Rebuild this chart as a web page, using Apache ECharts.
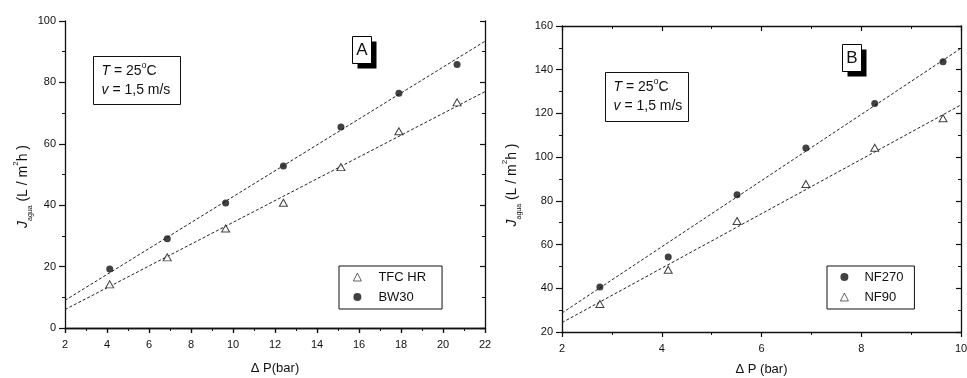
<!DOCTYPE html>
<html><head><meta charset="utf-8">
<script src="https://cdn.jsdelivr.net/npm/echarts@6/dist/echarts.min.js"></script>
<style>html,body{margin:0;padding:0;background:#fff}#c{width:967px;height:378px}</style>
</head><body><div id="c"></div>
<script>
// Panel A: reverse-osmosis membranes
const pressureA = [4.13, 6.87, 9.65, 12.40, 15.14, 17.90, 20.67];
const fluxTFCHR = [14.2, 23.0, 32.4, 40.8, 52.4, 64.1, 73.5];
const fluxBW30 = [19.2, 29.1, 40.7, 52.8, 65.5, 76.5, 85.8];
// linear fits, end points
const fitTFCHR = [[2, 6.0], [22, 77.0]];
const fitBW30 = [[2, 9.0], [22, 93.4]];

// Panel B: nanofiltration membranes
const pressureB = [2.76, 4.13, 5.51, 6.89, 8.27, 9.64];
const fluxNF270 = [40.6, 54.3, 82.8, 104.2, 124.5, 143.7];
const fluxNF90 = [32.8, 48.5, 70.8, 87.7, 104.3, 117.8];
const fitNF270 = [[2, 28.7], [10, 149.8]];
const fitNF90 = [[2, 24.3], [10, 123.9]];

const FONT = '"Liberation Sans", Arial, sans-serif';
const INK = '#111';

const pair = (xs, ys) => xs.map((x, i) => [x, ys[i]]);

function mainX(grid, min, max, name, gap) {
  return {
    type: 'value', gridIndex: grid, position: 'bottom', min, max, interval: 2,
    name, nameLocation: 'middle', nameGap: gap,
    nameTextStyle: { fontFamily: FONT, fontSize: 13, color: INK },
    axisLine: { lineStyle: { color: INK, width: 1.3 } },
    axisTick: { inside: false, length: 5, lineStyle: { color: INK, width: 1.2 } },
    minorTick: { show: true, splitNumber: 2, length: 3, lineStyle: { color: INK, width: 1 } },
    axisLabel: { fontFamily: FONT, fontSize: 11, color: INK, margin: 11 },
    splitLine: { show: false }
  };
}
function mirrorX(grid, min, max) {
  return {
    type: 'value', gridIndex: grid, position: 'top', min, max, interval: 2,
    axisLine: { lineStyle: { color: INK, width: 1.3 } },
    axisTick: { inside: true, length: 5, lineStyle: { color: INK, width: 1.2 } },
    minorTick: { show: true, splitNumber: 2, length: 3, lineStyle: { color: INK, width: 1 } },
    axisLabel: { show: false }, splitLine: { show: false }
  };
}
function mainY(grid, min, max, gap, pad) {
  return {
    type: 'value', gridIndex: grid, position: 'left', min, max, interval: 20,
    name: '{j|J}{sub|agua}{n| (L / m}{sup|2}{n|h )}',
    nameLocation: 'middle', nameRotate: 90, nameGap: gap,
    nameTextStyle: {
      fontFamily: FONT, color: INK, padding: pad,
      rich: {
        j: { fontFamily: FONT, fontSize: 14, fontStyle: 'italic', color: INK, lineHeight: 22, verticalAlign: 'middle' },
        sub: { fontFamily: FONT, fontSize: 7, color: INK, lineHeight: 22, verticalAlign: 'bottom' },
        n: { fontFamily: FONT, fontSize: 14, color: INK, lineHeight: 22, verticalAlign: 'middle' },
        sup: { fontFamily: FONT, fontSize: 8, color: INK, lineHeight: 22, verticalAlign: 'top' }
      }
    },
    axisLine: { lineStyle: { color: INK, width: 1.3 } },
    axisTick: { inside: false, length: 6, lineStyle: { color: INK, width: 1.2 } },
    minorTick: { show: true, splitNumber: 2, length: 3, lineStyle: { color: INK, width: 1 } },
    axisLabel: { fontFamily: FONT, fontSize: 11, color: INK, margin: 9 },
    splitLine: { show: false }
  };
}
function mirrorY(grid, min, max) {
  return {
    type: 'value', gridIndex: grid, position: 'right', min, max, interval: 20,
    axisLine: { lineStyle: { color: INK, width: 1.3 } },
    axisTick: { inside: true, length: 5, lineStyle: { color: INK, width: 1.2 } },
    minorTick: { show: true, splitNumber: 2, length: 3, lineStyle: { color: INK, width: 1 } },
    axisLabel: { show: false }, splitLine: { show: false }
  };
}

const hollow = { color: '#fff', borderColor: INK, borderWidth: 1 };
const solid = { color: INK };
function pts(name, xAxisIndex, yAxisIndex, data, symbol) {
  return {
    name, type: 'scatter', xAxisIndex, yAxisIndex, data,
    symbol: symbol, symbolSize: symbol === 'triangle' ? [8, 7] : 7,
    itemStyle: symbol === 'triangle' ? hollow : solid, z: 5
  };
}
function fit(xAxisIndex, yAxisIndex, data) {
  return {
    type: 'line', xAxisIndex, yAxisIndex, data, showSymbol: false, symbol: 'none',
    silent: true, lineStyle: { color: '#222', width: 1, type: [3, 2] }, z: 3
  };
}

const rich = {
  i: { fontFamily: FONT, fontSize: 14, fontStyle: 'italic', color: INK, lineHeight: 19 },
  t: { fontFamily: FONT, fontSize: 14, color: INK, lineHeight: 19 },
  sup: { fontFamily: FONT, fontSize: 9, color: INK, lineHeight: 19, verticalAlign: 'top' }
};
function condBox(x, y, w, h) {
  return {
    type: 'group', left: x, top: y,
    children: [
      { type: 'rect', shape: { x: 0, y: 0, width: w, height: h }, style: { fill: '#fff', stroke: INK, lineWidth: 1 } },
      { type: 'text', x: 8, y: 5, style: {
        text: '{i|T}{t| = 25}{sup|o}{t|C}\n{i|v}{t| = 1,5 m/s}', rich, fill: INK } }
    ]
  };
}
function tag(x, y, letter) {
  return {
    type: 'group', left: x, top: y,
    children: [
      { type: 'rect', shape: { x: 5, y: 5, width: 19, height: 27 }, style: { fill: '#000' } },
      { type: 'rect', shape: { x: 0, y: 0, width: 19, height: 27 }, style: { fill: '#fff', stroke: '#000', lineWidth: 1 } },
      { type: 'text', x: 9.5, y: 14, style: { text: letter, fontFamily: FONT, fontSize: 17, fill: INK, align: 'center', verticalAlign: 'middle' } }
    ]
  };
}
function legendBox(left, top, names, padLeft, textPad, padRight) {
  return {
    data: names, orient: 'vertical', left, top,
    padding: [3, padRight, 4, padLeft], itemGap: 4, itemWidth: 8, itemHeight: 8,
    borderColor: INK, borderWidth: 1, backgroundColor: '#fff',
    itemStyle: { borderWidth: 0.8 },
    textStyle: { fontFamily: FONT, fontSize: 13, color: INK, lineHeight: 16, padding: [0, 0, 0, textPad] },
    selectedMode: false
  };
}

const chart = echarts.init(document.getElementById('c'), null, { renderer: 'canvas' });
chart.setOption({
  animation: false,
  backgroundColor: '#fff',
  grid: [
    { left: 65, top: 21, width: 420, height: 307, outerBoundsMode: 'none', containLabel: false },
    { left: 562, top: 26, width: 399, height: 306, outerBoundsMode: 'none', containLabel: false }
  ],
  xAxis: [
    mainX(0, 2, 22, '\u0394 P(bar)', 34), mirrorX(0, 2, 22),
    mainX(1, 2, 10, '\u0394 P (bar)', 31), mirrorX(1, 2, 10)
  ],
  yAxis: [
    mainY(0, 0, 100, 30, [0, 24, 0, 0]), mirrorY(0, 0, 100),
    mainY(1, 20, 160, 39, [0, 12, 0, 0]), mirrorY(1, 20, 160)
  ],
  legend: [
    legendBox(339, 266, ['TFC HR', 'BW30'], 14, 12, 16),
    legendBox(827, 266, ['NF270', 'NF90'], 13, 11, 11)
  ],
  series: [
    fit(0, 0, fitTFCHR), fit(0, 0, fitBW30),
    pts('TFC HR', 0, 0, pair(pressureA, fluxTFCHR), 'triangle'),
    pts('BW30', 0, 0, pair(pressureA, fluxBW30), 'circle'),
    fit(2, 2, fitNF270), fit(2, 2, fitNF90),
    pts('NF270', 2, 2, pair(pressureB, fluxNF270), 'circle'),
    pts('NF90', 2, 2, pair(pressureB, fluxNF90), 'triangle')
  ],
  graphic: [
    condBox(93, 56, 87, 48),
    condBox(605, 72, 83, 49),
    tag(352, 36, 'A'),
    tag(842, 44, 'B')
  ]
});
</script>
</body></html>
